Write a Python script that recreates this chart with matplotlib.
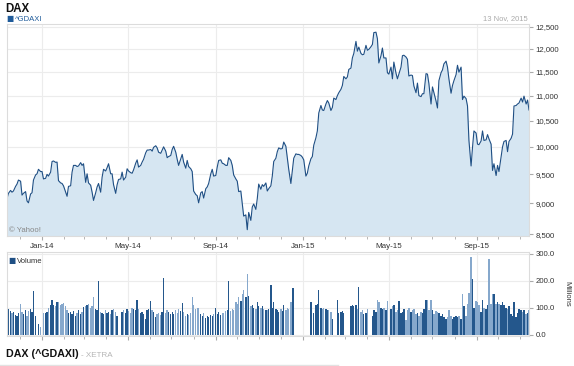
import numpy as np
import pandas as pd
import matplotlib
matplotlib.use('Agg')
import matplotlib.pyplot as plt
import matplotlib.dates as mdates
from matplotlib.ticker import FuncFormatter, NullLocator

plt.rcParams['font.family'] = ['Liberation Sans', 'DejaVu Sans']

price = [
    9080, 9170, 9220, 9190, 9210, 9290, 9330, 9400,  # 2013-11
    9380, 9140, 9170, 9200, 9040, 9010, 9160, 9180, 9400, 9490, 9510, 9590, 9550,  # 2013-12
    9550, 9420, 9430, 9500, 9470, 9540, 9730, 9740, 9715, 9720, 9390, 9350, 9340, 9300,  # 2014-01
    9190, 9120, 9290, 9300, 9540, 9660, 9660, 9640, 9650, 9710, 9660, 9690,  # 2014-02
    9360, 9510, 9350, 9310, 9190, 9050, 9180, 9280, 9340, 9190, 9450, 9590, 9560,  # 2014-03
    9620, 9690, 9510, 9510, 9320, 9170, 9320, 9410, 9420, 9540, 9400, 9450, 9600,  # 2014-04
    9560, 9530, 9520, 9580, 9700, 9760, 9630, 9660, 9720, 9770, 9890, 9940, 9940,  # 2014-05
    9950, 9920, 9990, 10020, 9980, 9900, 9880, 9940, 10000, 9920, 9800, 9820, 9840,  # 2014-06
    9950, 10010, 9900, 9770, 9660, 9780, 9860, 9720, 9610, 9750, 9640, 9600, 9550,  # 2014-07
    9210, 9150, 9130, 9010, 9180, 9200, 9090, 9250, 9280, 9340, 9510, 9590, 9470,  # 2014-08
    9480, 9630, 9750, 9760, 9700, 9690, 9660, 9660, 9800, 9750, 9660, 9490, 9420,  # 2014-09
    9380, 9200, 9210, 9000, 8790, 8810, 8570, 8850, 8720, 8940, 8990, 8900, 9080, 9330,  # 2014-10
    9240, 9320, 9290, 9350, 9210, 9250, 9300, 9470, 9730, 9790, 9910, 9980,  # 2014-11
    9960, 9970, 10090, 10010, 9800, 9590, 9340, 9560, 9790, 9870, 9860, 9860, 9840, 9810,  # 2014-12
    9760, 9470, 9520, 9650, 9780, 9820, 10030, 10170, 10300, 10650, 10800, 10710, 10700,  # 2015-01
    10830, 10900, 10850, 10700, 10760, 10950, 10920, 11000, 11060, 11130, 11210, 11400,  # 2015-02
    11350, 11390, 11550, 11580, 11800, 11900, 12170, 11950, 12040, 11900, 11870, 11880, 12080,  # 2015-03
    11970, 11990, 12050, 12100, 12370, 12380, 12230, 11690, 11850, 12020, 11800, 11800, 11480,  # 2015-04
    11450, 11600, 11350, 11710, 11470, 11350, 11450, 11600, 11850, 11860, 11820, 11770, 11410,  # 2015-05
    11430, 11420, 11200, 11060, 11260, 11000, 10980, 11040, 11040, 11460, 11450, 11250, 10830,  # 2015-06
    11180, 11060, 10890, 10750, 11310, 11480, 11540, 11670, 11730, 11600, 11350, 11050, 11210, 11310,  # 2015-07
    11440, 11640, 11490, 11600, 10920, 10990, 10940, 10790, 10120, 9650, 9990, 10300, 10260,  # 2015-08
    10050, 10040, 10110, 10300, 10120, 10130, 10230, 10150, 10050, 9570, 9690, 9480, 9660,  # 2015-09
    9550, 9810, 10000, 10100, 10120, 9910, 10100, 10160, 10240, 10790, 10800, 10830, 10850,  # 2015-10
    10950, 10870, 10990, 10830, 10910, 10710,  # 2015-11
]

# volume in millions, same dates (0 = no data)
volume = [
    105, 95, 88, 80, 84, 72, 70, 82,
    115, 85, 75, 90, 70, 88, 95, 85, 162, 70, 0, 40, 30,
    0, 80, 82, 85, 100, 112, 128, 110, 105, 120, 122, 110, 115, 118,
    105, 90, 80, 85, 75, 88, 70, 82, 90, 78, 85, 102,
    105, 110, 115, 100, 108, 140, 95, 90, 200, 85, 80, 75, 90,
    80, 85, 78, 90, 95, 85, 70, 0, 0, 85, 90, 82, 95,
    88, 80, 100, 95, 90, 130, 95, 80, 85, 78, 60, 90, 95,
    125, 90, 85, 65, 75, 80, 72, 85, 212, 80, 90, 85, 78,
    85, 75, 90, 80, 95, 88, 117, 85, 70, 78, 72, 80, 140,
    110, 95, 98, 100, 75, 68, 80, 62, 70, 65, 72, 68, 75,
    100, 78, 85, 72, 80, 82, 88, 90, 200, 88, 95, 92, 120,
    115, 140, 125, 150, 165, 140, 227, 145, 105, 110, 100, 95, 120, 105,
    100, 105, 95, 92, 90, 95, 185, 100, 120, 95, 90, 85,
    95, 88, 110, 92, 100, 95, 120, 172, 175, 0, 0, 0, 0, 0,
    0, 0, 0, 0, 120, 0, 80, 110, 115, 165, 100, 95, 100,
    95, 90, 92, 85, 60, 0, 0, 130, 80, 85, 88, 82,
    0, 0, 0, 108, 112, 105, 110, 95, 178, 85, 90, 75, 80,
    95, 0, 0, 70, 90, 85, 130, 120, 100, 95, 100, 90, 125,
    0, 95, 105, 110, 85, 90, 125, 80, 85, 95, 55, 90, 100,
    85, 90, 95, 75, 80, 70, 85, 80, 95, 130, 128, 90, 130,
    90, 75, 88, 85, 80, 70, 75, 65, 60, 65, 90, 70, 60, 65,
    70, 65, 68, 60, 150, 105, 70, 115, 155, 290, 205, 100, 125,
    120, 110, 85, 130, 100, 95, 110, 280, 115, 150, 150, 115, 120,
    115, 110, 120, 110, 100, 95, 105, 75, 70, 120, 65, 80, 95,
    90, 85, 92, 78, 80, 92,
]

price_ticks = [8500, 9000, 9500, 10000, 10500, 11000, 11500, 12000, 12500]
vol_ticks = [0, 100, 200, 300]

dates = pd.bdate_range(start='2013-11-13', periods=len(price), freq='C', weekmask='Mon Wed Fri')
price = np.array(price, dtype=float)
volume = np.array(volume, dtype=float)
n = min(len(dates), len(volume))

W, H = 574, 366
line_col = '#1f4f84'
fill_col = '#d6e6f2'
grid_col = '#ececec'
edge_col = '#dcdcdc'

fig = plt.figure(figsize=(W / 100, H / 100), dpi=100)
ax1 = fig.add_axes([7 / W, 1 - 236 / H, 522 / W, 212 / H])
ax2 = fig.add_axes([7 / W, 1 - 336 / H, 522 / W, 84 / H])

x0, x1 = pd.Timestamp('2013-11-13'), pd.Timestamp('2015-11-13')
ybot = 8470

# price panel
ax1.set_yscale('log')
ax1.fill_between(dates, price, ybot, color=fill_col, lw=0)
ax1.plot(dates, price, color=line_col, lw=0.8)
ax1.set_ylim(ybot, 12570)
ax1.set_xlim(x0, x1)
ax1.yaxis.tick_right()
ax1.set_yticks(price_ticks)
ax1.yaxis.set_minor_locator(NullLocator())
ax1.yaxis.set_major_formatter(FuncFormatter(lambda v, p: f'{v:,.0f}'))

# volume panel
up = np.r_[True, price[1:] >= price[:-1]]
cols = np.where(up[:n], '#24578c', '#86a8cc')
ax2.bar(dates[:n], volume[:n], width=1.9, color=cols, lw=0)
ax2.set_ylim(-5, 307)
ax2.set_xlim(x0, x1)
ax2.yaxis.tick_right()
ax2.set_yticks(vol_ticks)
ax2.yaxis.set_major_formatter(FuncFormatter(lambda v, p: f'{v:.1f}'))

for ax in (ax1, ax2):
    ax.xaxis.set_major_locator(mdates.MonthLocator(bymonth=[1, 5, 9]))
    ax.xaxis.set_minor_locator(mdates.MonthLocator())
    ax.xaxis.set_major_formatter(mdates.DateFormatter('%b-%y'))
    ax.grid(True, which='major', color=grid_col, lw=0.8)
    ax.set_axisbelow(True)
    for s in ax.spines.values():
        s.set_color(edge_col)
        s.set_linewidth(0.8)
    ax.tick_params(axis='both', which='both', color='#aaaaaa', labelcolor='#333333')
    ax.tick_params(axis='y', length=3, pad=1.5, labelsize=5.6)
    ax.tick_params(axis='x', which='major', length=3, pad=2, labelsize=5.8)
    ax.tick_params(axis='x', which='minor', length=2)
ax2.tick_params(axis='x', labelbottom=False)


def ftext(x, y, s, **kw):
    fig.text(x / W, 1 - y / H, s, **kw)


ftext(5, 11.5, 'DAX', fontsize=8.3, fontweight='bold', color='#111111', va='baseline')
ftext(6, 21, '\u25a0', fontsize=5.5, color='#1f5b9a', va='baseline', family=['DejaVu Sans'])
ftext(15, 21, '^GDAXI', fontsize=5.5, color='#1f5b9a', va='baseline')
ftext(528, 20, '13 Nov, 2015', fontsize=5.5, color='#aaaaaa', va='baseline', ha='right')
ftext(9, 232, '\u00a9 Yahoo!', fontsize=5.6, color='#888888', va='baseline')
ftext(8, 263, '\u25a0', fontsize=5.5, color='#1f4f84', va='baseline', family=['DejaVu Sans'])
ftext(17, 263, 'Volume', fontsize=5.5, color='#333333', va='baseline')
ftext(567, 294, 'Millions', fontsize=5.5, color='#333333', rotation=270, ha='center', va='center')
ftext(6, 357, 'DAX (^GDAXI)', fontsize=7.7, fontweight='bold', color='#111111', va='baseline')
ftext(81, 357, '- XETRA', fontsize=5.8, color='#b5b5b5', va='baseline')
fig.add_artist(plt.Line2D([0, 338 / W], [1 - 364.5 / H] * 2, color='#e2e2e2', lw=1))

fig.savefig('out.png', dpi=100)
